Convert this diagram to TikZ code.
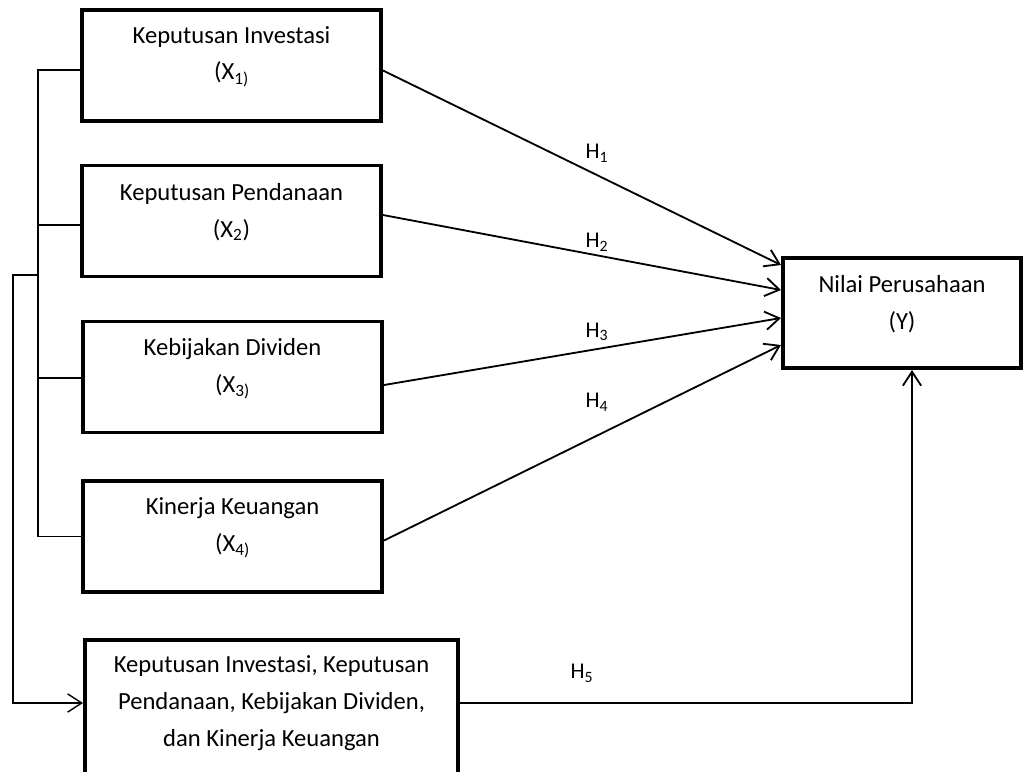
\documentclass[tikz,border=0pt]{standalone}
\usepackage{fontspec}
\setmainfont{Carlito}
\usetikzlibrary{arrows.meta, positioning, calc}
\tikzset{
  varbox/.style={rectangle, draw, line width=2.8pt, inner sep=0pt,
                 minimum width=7.475cm, minimum height=2.775cm},
  boxtext/.style={align=center, font=\fontsize{17.5}{26}\selectfont},
  hlabel/.style={font=\fontsize{16}{18}\selectfont},
  arrow/.style={-{Straight Barb[length=10pt, width=13pt]}, line width=1.3pt},
  busline/.style={line width=1pt},
}

\begin{document}
\begin{tikzpicture}[x=0.025cm, y=-0.025cm]
  \useasboundingbox (0,0) rectangle (1023,771);

  % Independent variables
  \node (x1) at (231.5,65.5) [varbox,
    label={[boxtext, yshift=6.4pt]center:{Keputusan Investasi\\(X\textsubscript{1)}}}] {};
  \node (x2) at (231.5,221) [varbox,
    label={[boxtext, yshift=6.4pt]center:{Keputusan Pendanaan\\(X\textsubscript{2})}}] {};
  \node (x3) at (232.5,377) [varbox,
    label={[boxtext, yshift=6pt]center:{Kebijakan Dividen\\(X\textsubscript{3)}}}] {};
  \node (x4) at (232.5,536.5) [varbox,
    label={[boxtext, yshift=6pt]center:{Kinerja Keuangan\\(X\textsubscript{4)}}}] {};

  % Simultaneous box
  \node (xall) at (271.5,708) [varbox, minimum width=9.325cm, minimum height=3.4cm,
    label={[boxtext, yshift=3.5pt]center:{Keputusan Investasi, Keputusan\\Pendanaan, Kebijakan Dividen,\\dan Kinerja Keuangan}}] {};

  % Dependent variable
  \node (ny) at (902,313) [varbox, minimum width=5.95cm, minimum height=2.75cm,
    label={[boxtext, yshift=6.4pt]center:{Nilai Perusahaan\\(Y)}}] {};

  % Hypothesis arrows
  \draw[arrow] ($(x1.east)+(0,5)$) -- ($(ny.west)+(0,-48)$);
  \draw[arrow] ($(x2.east)+(0,-6)$) -- ($(ny.west)+(0,-23)$);
  \draw[arrow] ($(x3.east)+(0,8)$) -- ($(ny.west)+(0,5)$);
  \draw[arrow] ($(x4.east)+(0,4)$) -- ($(ny.west)+(0,32)$);
  \draw[arrow] ($(xall.east)+(0,-5)$) -| ($(ny.south)+(10,0)$);

  \node (h1) at (597,153) [hlabel] {H\textsubscript{1}};
  \node (h2) at (597,242) [hlabel] {H\textsubscript{2}};
  \node (h3) at (597,332) [hlabel] {H\textsubscript{3}};
  \node (h4) at (597,402) [hlabel] {H\textsubscript{4}};
  \node (h5) at (582,673) [hlabel] {H\textsubscript{5}};

  % Left bracket
  \coordinate (bus) at (38,0);
  \coordinate (split) at (38,275);
  \coordinate (corner) at (13,275);
  \draw[busline] ($(x1.west)+(0,4.5)$) -- ($(x1.west -| bus)+(0,4.5)$)
    -- ($(x4.west -| bus)$) -- (x4.west);
  \draw[busline] ($(x2.west)+(0,4)$) -- ($(x2.west -| bus)+(0,4)$);
  \draw[busline] ($(x3.west)+(0,1)$) -- ($(x3.west -| bus)+(0,1)$);
  \draw[arrow, busline] (split) -- (corner) |- ($(xall.west)+(0,-5)$);

\end{tikzpicture}
\end{document}
